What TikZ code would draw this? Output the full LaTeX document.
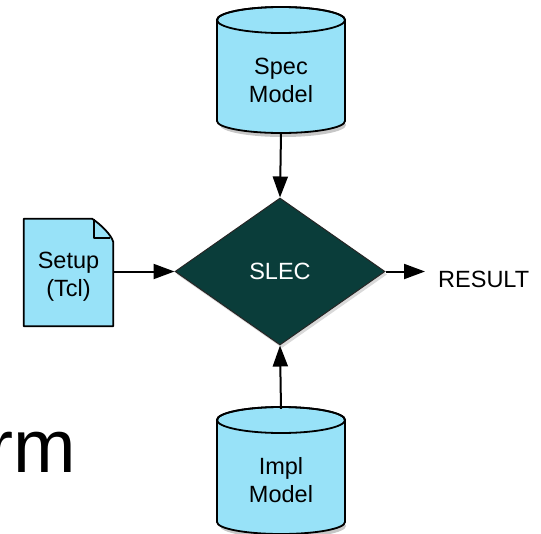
\documentclass[tikz,border=0pt]{standalone}
\usepackage{fontspec}
\setmainfont{Liberation Sans}
\usetikzlibrary{shapes.geometric,arrows.meta,shadows}
\definecolor{dbfill}{RGB}{152,226,248}
\definecolor{slecfill}{RGB}{10,61,58}

% database cylinder: #1 centre x, #2 top ellipse centre y, #3 bottom ellipse centre y
\newcommand\drawdb[3]{%
  \fill[black,opacity=.22] ({#1+2},{#3-4}) ellipse[x radius=63,y radius=12];
  \filldraw[fill=dbfill,line width=1.8pt]
    ({#1-64},#2) -- ({#1-64},#3)
    arc[start angle=180,end angle=360,x radius=64,y radius=12]
    -- ({#1+64},#2)
    arc[start angle=0,end angle=180,x radius=64,y radius=13] -- cycle;
  \draw[line width=1.8pt] (#1,#2) ellipse[x radius=64,y radius=13];
}

\begin{document}
\begin{tikzpicture}[x=1pt,y=1pt,
  lbl/.style={font=\fontsize{23.5}{28}\selectfont, align=center, inner sep=0pt},
  area/.style={inner sep=0pt, minimum width=#1},
  flow/.style={line width=2pt, -{Triangle[length=21pt,width=15pt]}},
  decision/.style={diamond, aspect=1.43, minimum width=210pt, minimum height=147pt,
    inner sep=0pt, fill=slecfill, draw=black!85, line width=1pt,
    drop shadow={shadow xshift=2pt, shadow yshift=-3pt, opacity=.3},
    text=white, font=\fontsize{23.5}{28}\selectfont}]
\useasboundingbox (0,0) rectangle (541,-533);

% large heading fragment at the left edge
\node[anchor=base east, inner sep=0pt, font=\fontsize{75}{80}\selectfont] (heading) at (76,-472) {rm};

% the two models
\drawdb{281}{-20}{-121}
\drawdb{281}{-420}{-522}
\node[area=128pt, minimum height=126pt] (specdb) at (281,-70) {};
\node[area=128pt, minimum height=125pt] (impldb) at (281,-471.5) {};
\node[lbl] (spectext) at (281,-80) {Spec\\Model};
\node[lbl] (impltext) at (281,-480) {Impl\\Model};

% setup document with folded corner
\node[area=89pt, minimum height=107pt] (setup) at (68.5,-272.5) {};
\filldraw[fill=dbfill, line width=1.8pt, line join=round]
  (setup.south west) -- (setup.north west) -- ([xshift=-21pt]setup.north east)
  .. controls ([xshift=-12pt,yshift=-6pt]setup.north east) and ([xshift=-2pt,yshift=-16pt]setup.north east)
  .. ([yshift=-23pt]setup.north east) -- (setup.south east) -- cycle;
\draw[line width=1.8pt, line join=round]
  ([xshift=-19pt]setup.north east) -- ([xshift=-19pt,yshift=-19pt]setup.north east)
  -- ([xshift=-3pt,yshift=-19pt]setup.north east);
\node[lbl] (setuptext) at (68.5,-276.5) {Setup\\(Tcl)};

% equivalence checker
\node[decision] (slec) at (280,-271.5) {SLEC};

% result label
\node[anchor=base west, inner sep=0pt, font=\fontsize{23.5}{28}\selectfont] (result) at (438,-287) {RESULT};
\coordinate (resultin) at (425,-271.5);

% connectors
\draw[flow] (specdb.south) -- (slec.north);
\draw[flow] (impldb.north) -- (slec.south);
\draw[flow] (setup.east |- slec.west) -- (slec.west);
\draw[flow] (slec.east) -- (resultin);
\end{tikzpicture}
\end{document}
